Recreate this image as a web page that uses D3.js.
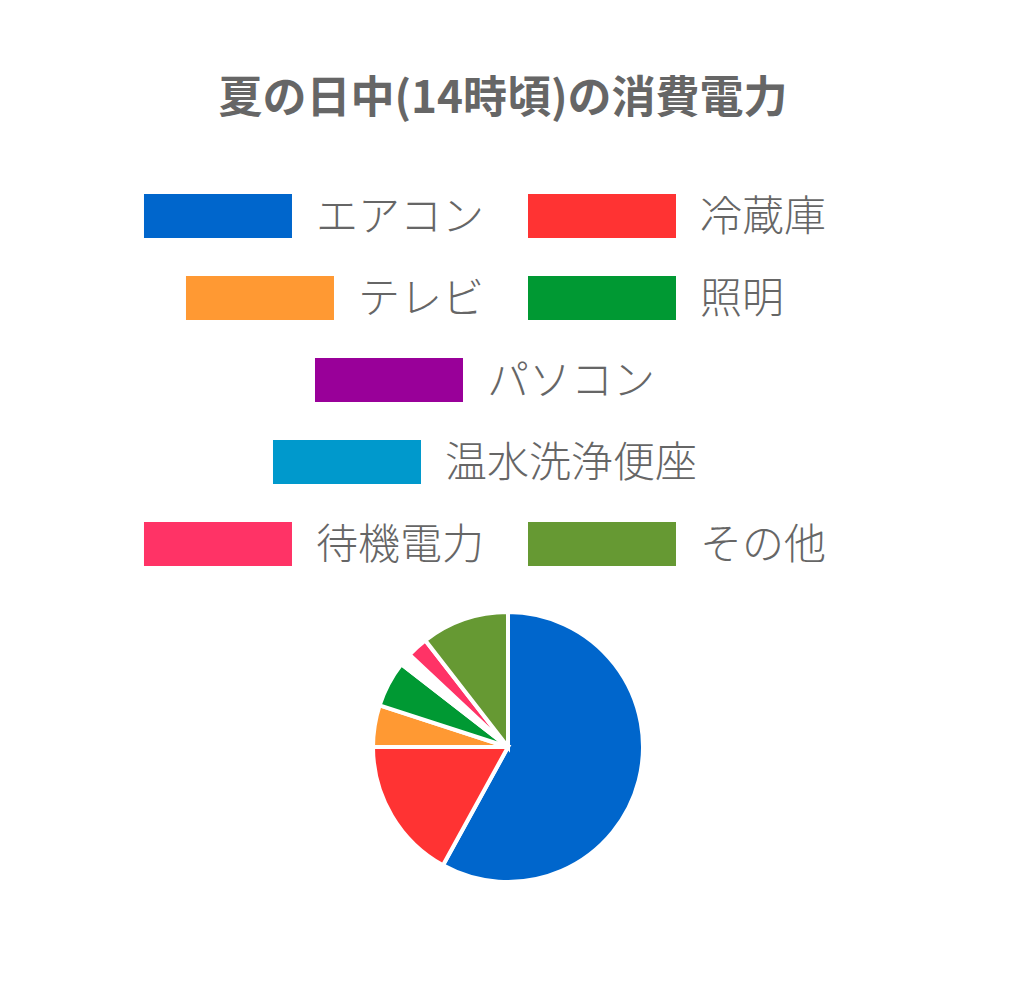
<!DOCTYPE html>
<html>
<head>
<meta charset="utf-8">
<script src="https://cdn.jsdelivr.net/npm/d3@7"></script>
<style>
  body { margin: 0; background: #fff; }
  text { font-family: "Noto Sans CJK JP", "Noto Sans", sans-serif; fill: #666; }
</style>
</head>
<body>
<div id="pie_chart"></div>
<script>
// data (percent)
const categories = ["エアコン", "冷蔵庫", "テレビ", "照明", "パソコン", "温水洗浄便座", "待機電力", "その他"];
const values = [58, 17, 5, 5.5, 1, 0.5, 2.5, 10.5];
const colors = ["#0066CC", "#FF3333", "#FF9933", "#009933", "#990099", "#0099CC", "#FF3366", "#669933"];
// slices that show up only as white gaps in the original pie
const blankSlices = ["パソコン", "温水洗浄便座"];
const title = "夏の日中(14時頃)の消費電力";

const width = 1024, height = 1006;

const svg = d3.select("#pie_chart")
  .append("svg")
    .attr("width", width)
    .attr("height", height);

// title
svg.append("text")
  .attr("x", 503)
  .attr("y", 113)
  .attr("text-anchor", "middle")
  .style("font-size", "44px")
  .style("font-weight", "bold")
  .text(title);

// legend, laid out in centred lines like chart.js does
const boxW = 148, boxH = 44, textGap = 24, itemGap = 44, maxLine = 760;
const legendCx = 485, firstRow = 216, rowStep = 82;

const legend = svg.append("g");
const items = categories.map((c, i) => {
  const g = legend.append("g");
  g.append("rect")
    .attr("width", boxW)
    .attr("height", boxH)
    .attr("y", -boxH / 2)
    .attr("fill", colors[i]);
  const t = g.append("text")
    .attr("x", boxW + textGap)
    .attr("y", 15)
    .style("font-size", "42px")
    .style("font-weight", 300)
    .text(c);
  return { g, w: boxW + textGap + t.node().getComputedTextLength() };
});

const lines = [[]];
let lineW = 0;
items.forEach(it => {
  const add = lines[lines.length - 1].length ? itemGap + it.w : it.w;
  if (lineW + add > maxLine) { lines.push([it]); lineW = it.w; }
  else { lines[lines.length - 1].push(it); lineW += add; }
});
lines.forEach((line, r) => {
  const total = d3.sum(line, d => d.w) + itemGap * (line.length - 1);
  let x = legendCx - total / 2;
  line.forEach(it => {
    it.g.attr("transform", `translate(${x},${firstRow + r * rowStep})`);
    x += it.w + itemGap;
  });
});

// pie
const radius = 135;
const pieG = svg.append("g")
  .attr("transform", "translate(508,747)");

const pie = d3.pie().sort(null).value(d => d.v);
const arc = d3.arc().innerRadius(0).outerRadius(radius);
const color = d3.scaleOrdinal().domain(categories).range(colors);

pieG.selectAll("path")
  .data(pie(categories.map((c, i) => ({ c, v: values[i] }))))
  .join("path")
    .attr("d", arc)
    .attr("fill", d => blankSlices.includes(d.data.c) ? "#fff" : color(d.data.c))
    .attr("stroke", "#fff")
    .attr("stroke-width", 4);
</script>
</body>
</html>
